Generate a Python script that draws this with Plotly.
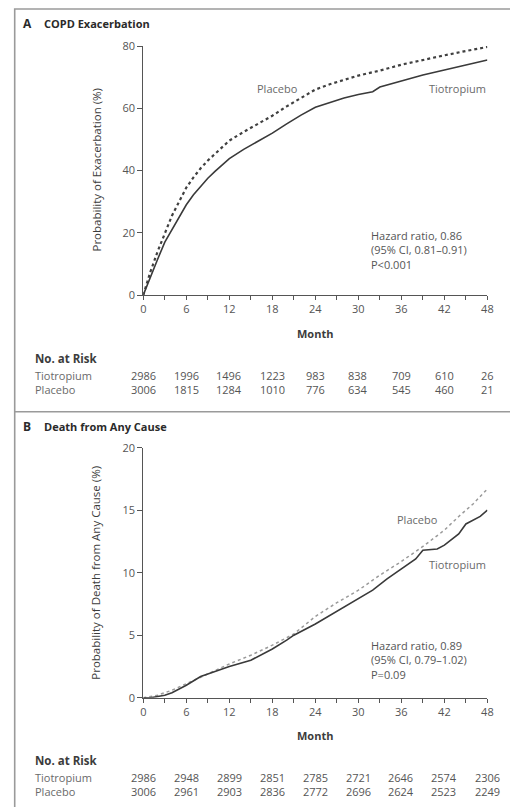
import plotly.graph_objects as go

W, H = 510, 807

# ---------------- data ----------------
months_a = [0, 1, 2, 3, 4, 5, 6, 7, 8, 9, 10, 12, 14, 16, 18, 20, 22, 24, 26, 28, 30, 32, 33, 36, 39, 42, 45, 48]
placebo_a = [0, 7.5, 14, 20, 25.5, 30, 34.5, 37.8, 40.7, 43.2, 45.3, 49.6, 52.4, 55, 57.6, 60.6, 63.3, 66,
             67.7, 69.2, 70.5, 71.6, 72.1, 74, 75.6, 77, 78.4, 79.7]
tiotropium_a = [0, 6, 11.5, 17, 21, 25, 29, 32.2, 35, 37.5, 39.7, 43.8, 46.8, 49.5, 52, 55, 57.8, 60.3,
                61.8, 63.3, 64.4, 65.3, 66.8, 68.7, 70.7, 72.3, 73.9, 75.5]

months_b_tio = [0, 1, 2, 3, 4, 6, 8, 9, 12, 15, 16, 18, 20, 21, 24, 27, 30, 32, 34, 36, 38, 39, 41, 42, 44, 45, 46, 47, 48]
tiotropium_b = [0, 0, 0.1, 0.2, 0.4, 1.0, 1.7, 1.9, 2.5, 3.0, 3.3, 3.9, 4.6, 5.0, 5.9, 6.9, 7.9, 8.6, 9.5,
                10.3, 11.1, 11.8, 11.9, 12.2, 13.1, 13.9, 14.2, 14.5, 15.0]
months_b_pla = [0, 2, 4, 6, 9, 12, 15, 18, 21, 24, 27, 30, 33, 36, 39, 42, 44, 46, 48]
placebo_b = [0, 0.2, 0.6, 1.1, 1.9, 2.7, 3.4, 4.2, 5.1, 6.5, 7.6, 8.6, 9.8, 10.9, 12.1, 13.4, 14.5, 15.5, 16.7]

risk_months = [0, 6, 12, 18, 24, 30, 36, 42, 48]
risk_a_tio = ["2986", "1996", "1496", "1223", "983", "838", "709", "610", "26"]
risk_a_pla = ["3006", "1815", "1284", "1010", "776", "634", "545", "460", "21"]
risk_b_tio = ["2986", "2948", "2899", "2851", "2785", "2721", "2646", "2574", "2306"]
risk_b_pla = ["3006", "2961", "2903", "2836", "2772", "2696", "2624", "2523", "2249"]
risk_groups = ["Tiotropium", "Placebo"]

x_ticks = [0, 6, 12, 18, 24, 30, 36, 42, 48]
y_ticks_a = [0, 20, 40, 60, 80]
y_ticks_b = [0, 5, 10, 15, 20]

stats_a = ["Hazard ratio, 0.86", "(95% CI, 0.81\u20130.91)", "P<0.001"]
stats_b = ["Hazard ratio, 0.89", "(95% CI, 0.79\u20131.02)", "P=0.09"]

# ---------------- helpers ----------------
FONT = "Open Sans"
DARK = "#3c3c3c"
MID = "#555555"
LIGHT = "#6a6a6a"


def px(x):
    return x / W


def py(y):
    return 1 - y / H


fig = go.Figure()

fig.add_trace(go.Scatter(x=months_a, y=placebo_a, mode="lines", xaxis="x", yaxis="y",
                         line=dict(color="#404040", width=2.2, dash="dot"), showlegend=False))
fig.add_trace(go.Scatter(x=months_a, y=tiotropium_a, mode="lines", xaxis="x", yaxis="y",
                         line=dict(color="#3a3a3a", width=1.6), showlegend=False))
fig.add_trace(go.Scatter(x=months_b_pla, y=placebo_b, mode="lines", xaxis="x2", yaxis="y2",
                         line=dict(color="#9a9a9a", width=1.5, dash="dot"), showlegend=False))
fig.add_trace(go.Scatter(x=months_b_tio, y=tiotropium_b, mode="lines", xaxis="x2", yaxis="y2",
                         line=dict(color="#3a3a3a", width=1.6), showlegend=False))

x_dom = [px(143.3), px(487.4)]
xa = dict(domain=x_dom, range=[0, 48], tickvals=x_ticks, ticks="outside", ticklen=4,
          tickcolor=MID, tickwidth=1, showline=True, linecolor=MID, linewidth=1,
          showgrid=False, zeroline=False, tickfont=dict(family=FONT, size=11, color=MID),
          minor=dict(dtick=3, tick0=0, ticks="outside", ticklen=4, tickcolor=MID, showgrid=False),
          fixedrange=True, automargin=False)
ya = dict(ticks="outside", ticklen=5, tickcolor=MID, tickwidth=1, showline=True, linecolor=MID,
          linewidth=1, showgrid=False, zeroline=False,
          tickfont=dict(family=FONT, size=11, color=MID), fixedrange=True, automargin=False)

fig.update_layout(
    width=W, height=H, margin=dict(l=0, r=0, t=0, b=0, pad=0), autosize=False,
    paper_bgcolor="white", plot_bgcolor="white",
    xaxis=dict(xa, anchor="y"),
    yaxis=dict(ya, domain=[py(295), py(46)], range=[0, 80], tickvals=y_ticks_a, anchor="x"),
    xaxis2=dict(xa, anchor="y2"),
    yaxis2=dict(ya, domain=[py(697.7), py(447.7)], range=[0, 20], tickvals=y_ticks_b, anchor="x2"),
)

ann = []


def text(x, y, s, size=11, color=DARK, xanchor="left", xref="paper", bold=False, angle=0, align="left"):
    ann.append(dict(x=x, y=y, xref=xref, yref="paper", text=("<b>%s</b>" % s) if bold else s,
                    showarrow=False, xanchor=xanchor, yanchor="middle", textangle=angle, align=align,
                    borderpad=0, font=dict(family=FONT, size=size, color=color)))


def panel(top_offset, letter, title, ytitle, ymid, month_y, stats, stats_y, risk_y, tio, pla, xref,
          pla_lab, tio_lab):
    text(px(22), py(top_offset), letter, size=12, bold=True, color="#2a2a2a")
    text(px(43), py(top_offset), title, size=11, bold=True, color="#2a2a2a")
    text(px(96), py(ymid), ytitle, size=11.5, color=DARK, xanchor="center", angle=-90)
    text(px(315.3), py(month_y), "Month", size=11, bold=True, color=DARK, xanchor="center")
    text(px(pla_lab[0]), py(pla_lab[1]), "Placebo", size=11, color=LIGHT)
    text(px(tio_lab[0]), py(tio_lab[1]), "Tiotropium", size=11, color=LIGHT, xanchor="right")
    text(px(370), py(stats_y), "<br>".join(stats), size=11, color=MID)
    text(px(34), py(risk_y - 24), "No. at Risk", size=11.5, bold=True, color=DARK)
    text(px(34), py(risk_y), "<br>".join(risk_groups), size=11, color=LIGHT)
    for m, a, b in zip(risk_months, tio, pla):
        text(m, py(risk_y), a + "<br>" + b, size=11, color=MID, xanchor="center", xref=xref, align="center")


panel(24, "A", "COPD Exacerbation", "Probability of Exacerbation (%)", 170.5, 333, stats_a, 250.5,
      382, risk_a_tio, risk_a_pla, "x", (256, 88), (487, 88))
panel(427, "B", "Death from Any Cause", "Probability of Death from Any Cause (%)", 572.7, 735, stats_b, 660,
      784, risk_b_tio, risk_b_pla, "x2", (396, 519.5), (487, 564))

fig.update_layout(annotations=ann)

# frame (outer box runs off the right and bottom edges; divider between panels)
frame_col = "#9a9a9a"
fig.add_shape(type="rect", xref="paper", yref="paper", x0=px(14.7), x1=1.02, y0=-0.02, y1=py(9),
              line=dict(color=frame_col, width=1.6), fillcolor="rgba(0,0,0,0)", layer="above")
fig.add_shape(type="line", xref="paper", yref="paper", x0=px(14.7), x1=1, y0=py(411.7), y1=py(411.7),
              line=dict(color=frame_col, width=1.6), layer="above")

fig.write_html("out.html", config=dict(displayModeBar=False),
               post_script="document.body.style.margin='0';document.body.style.overflow='hidden';")
